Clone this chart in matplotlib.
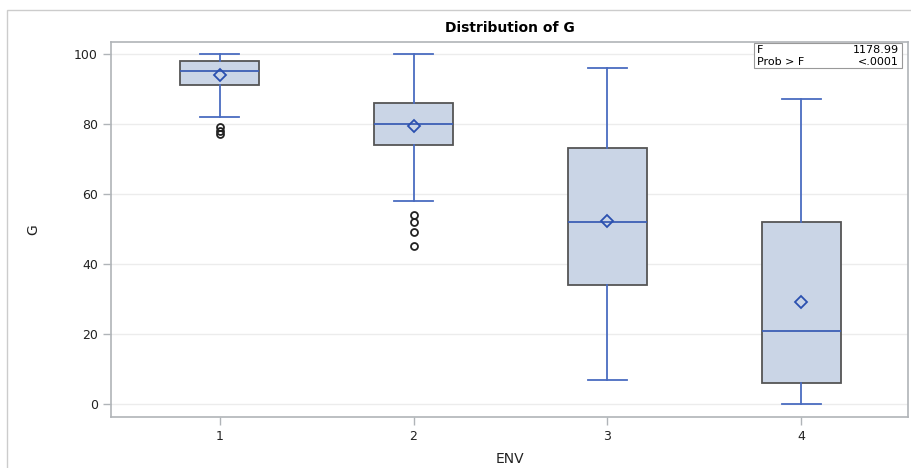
from matplotlib import pyplot as plt
from matplotlib.patches import Rectangle
import numpy as np

# box statistics
env = [1, 2, 3, 4]
q1 = [91, 74, 34, 6]
med = [95, 80, 52, 21]
q3 = [98, 86, 73, 52]
wlo = [82, 58, 7, 0]
whi = [100, 100, 96, 87]
means = [94, 79.5, 52.2, 29.2]
fliers = [[77, 78, 79], [54, 52, 49, 45], [], []]
f_value = "1178.99"
p_value = "<.0001"

fig = plt.figure(figsize=(9.11, 4.68), dpi=100)
ax = fig.add_axes([111 / 911, 1 - 417 / 468, 797 / 911, 375 / 468])

stats = []
for i in range(len(env)):
    stats.append(dict(med=med[i], q1=q1[i], q3=q3[i], whislo=wlo[i],
                      whishi=whi[i], mean=means[i], fliers=fliers[i],
                      label=str(env[i])))

blue = '#4a6cc0'
ax.bxp(stats, positions=env, widths=0.41, showmeans=True, patch_artist=True,
       boxprops=dict(facecolor='#cad5e6', edgecolor='#555555', linewidth=1.3),
       whiskerprops=dict(color=blue, linewidth=1.3),
       capprops=dict(color=blue, linewidth=1.3),
       capwidths=0.2,
       medianprops=dict(color='#3d5fb5', linewidth=1.3),
       meanprops=dict(marker='D', markerfacecolor='none', markeredgecolor='#2b50b0',
                      markeredgewidth=1.3, markersize=6.5),
       flierprops=dict(marker='o', markerfacecolor='none', markeredgecolor='#222222',
                       markeredgewidth=1.3, markersize=5))

ax.set_xlim(0.44, 4.55)
ax.set_ylim(-3.7, 103.4)
ax.set_yticks([0, 20, 40, 60, 80, 100])
ax.yaxis.grid(True, color='#ececec', linewidth=1)
ax.set_axisbelow(True)
for s in ax.spines.values():
    s.set_color('#b0b4b8')
    s.set_linewidth(1.2)
ax.tick_params(colors='#b0b4b8', labelcolor='#222222', labelsize=9, length=6, width=1)
ax.set_xlabel('ENV', fontsize=10, color='#222222', labelpad=6)
ax.set_ylabel('G', fontsize=10, color='#222222', labelpad=24)
ax.set_title('Distribution of G', fontsize=10, fontweight='bold', pad=7)

# inset with the F statistic
tb = Rectangle((754 / 911, 1 - 68 / 468), 148 / 911, 25 / 468, transform=fig.transFigure,
               facecolor='white', edgecolor='#999999', linewidth=0.8)
fig.patches.append(tb)
fig.text(757 / 911, 1 - 50 / 468, 'F', fontsize=8, va='center')
fig.text(899 / 911, 1 - 50 / 468, f_value, fontsize=8, va='center', ha='right')
fig.text(757 / 911, 1 - 62 / 468, 'Prob > F', fontsize=8, va='center')
fig.text(899 / 911, 1 - 62 / 468, p_value, fontsize=8, va='center', ha='right')

# outer frame of the graph
frame = Rectangle((7 / 911, -0.1), 1.2, 1 - 10 / 468 + 0.1, transform=fig.transFigure,
                  facecolor='none', edgecolor='#cccccc', linewidth=1)
fig.patches.append(frame)

fig.savefig('out.png', dpi=100)
